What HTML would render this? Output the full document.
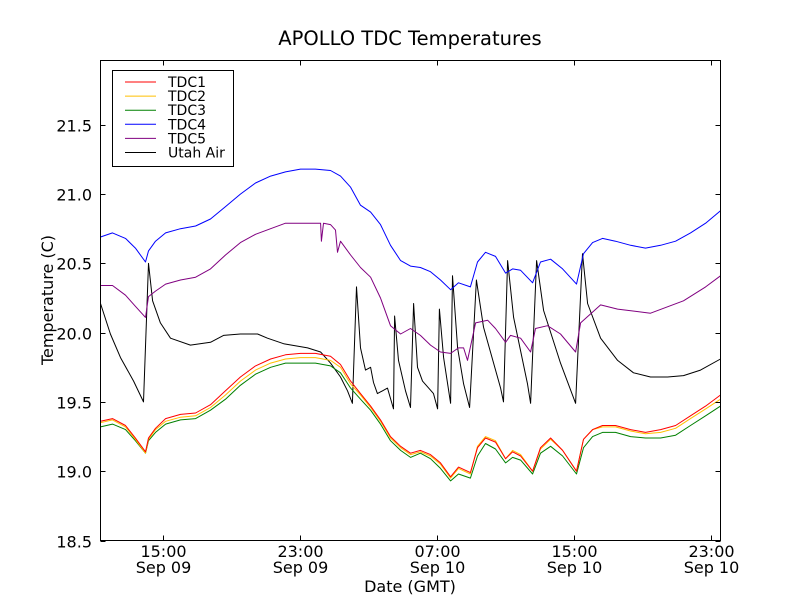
<!DOCTYPE html>
<html><head><meta charset="utf-8">
<style>
html,body{margin:0;padding:0;background:#fff;}
svg text{font-family:"DejaVu Sans","Liberation Sans",sans-serif;}
</style></head>
<body>
<svg id="chart" width="800" height="600" viewBox="0 0 800 600" xmlns="http://www.w3.org/2000/svg">
<rect x="0" y="0" width="800" height="600" fill="#fff"/>
<text x="410" y="45" font-size="19.5" text-anchor="middle">APOLLO TDC Temperatures</text>
<g id="plot"></g>
<rect x="100.5" y="60.5" width="620" height="480" fill="none" stroke="#000" stroke-width="1"/>
<g id="ticks"></g>
<text x="410" y="592" font-size="16" text-anchor="middle">Date (GMT)</text>
<text transform="translate(53,300) rotate(-90)" font-size="16" text-anchor="middle">Temperature (C)</text>
<g id="legend">
<rect x="112.5" y="70.5" width="121" height="96" fill="#fff" stroke="#000" stroke-width="1"/>
</g>
</svg>
<script>
const hoursGrid = [11.38,12.08,12.84,13.42,14.01,14.18,14.59,15.18,16.05,16.93,17.80,18.68,19.55,20.43,21.31,22.18,23.06,23.93,24.81,25.39,25.98,26.56,27.15,27.73,28.31,28.90,29.48,30.06,30.65,31.23,31.82,32.28,32.98,33.39,33.86,34.44,35.03,35.44,35.91,36.61,37.07,37.66,38.36,39.17,39.58,40.11,40.69,41.45,42.33,43.20,44.08,44.96,45.83,46.71,47.58];
const tdc1 = [19.36,19.38,19.33,19.24,19.14,19.24,19.31,19.38,19.41,19.42,19.48,19.58,19.68,19.76,19.81,19.84,19.85,19.85,19.83,19.77,19.65,19.56,19.47,19.37,19.25,19.18,19.13,19.15,19.12,19.06,18.96,19.03,18.99,19.17,19.24,19.21,19.09,19.14,19.11,19.00,19.17,19.24,19.15,19.00,19.23,19.30,19.33,19.33,19.30,19.28,19.30,19.33,19.40,19.47,19.55];
const tdc2 = [19.35,19.37,19.32,19.23,19.13,19.23,19.30,19.36,19.39,19.40,19.46,19.55,19.65,19.73,19.78,19.81,19.82,19.82,19.80,19.75,19.63,19.55,19.46,19.36,19.24,19.17,19.12,19.14,19.11,19.05,18.95,19.02,18.98,19.18,19.25,19.22,19.09,19.15,19.12,19.00,19.16,19.23,19.15,19.00,19.23,19.30,19.32,19.32,19.29,19.27,19.28,19.31,19.38,19.45,19.52];
const tdc3 = [19.32,19.34,19.30,19.22,19.13,19.22,19.28,19.34,19.37,19.38,19.44,19.52,19.62,19.70,19.75,19.78,19.78,19.78,19.76,19.71,19.60,19.52,19.44,19.34,19.22,19.15,19.10,19.13,19.09,19.02,18.93,18.98,18.95,19.11,19.20,19.16,19.06,19.10,19.08,18.98,19.13,19.18,19.11,18.98,19.17,19.25,19.28,19.28,19.25,19.24,19.24,19.26,19.33,19.40,19.47];
const tdc4 = [20.69,20.72,20.68,20.61,20.51,20.59,20.66,20.72,20.75,20.77,20.82,20.91,21.00,21.08,21.13,21.16,21.18,21.18,21.17,21.13,21.05,20.92,20.87,20.78,20.63,20.52,20.48,20.47,20.44,20.38,20.31,20.36,20.33,20.51,20.58,20.55,20.43,20.46,20.45,20.36,20.51,20.53,20.46,20.35,20.57,20.65,20.68,20.66,20.63,20.61,20.63,20.66,20.72,20.79,20.88];
const tdc5Hours = [11.38,12.08,12.84,13.42,14.01,14.18,14.59,15.18,16.05,16.93,17.80,18.68,19.55,20.43,21.31,22.18,23.06,23.93,24.23,24.28,24.40,24.81,25.10,25.22,25.39,25.98,26.56,27.15,27.73,28.31,28.90,29.48,30.06,30.65,31.23,31.82,32.28,32.58,32.81,33.28,33.98,34.44,35.03,35.32,35.91,36.49,36.78,37.48,38.24,39.12,39.41,40.58,41.57,43.49,45.42,46.71,47.58];
const tdc5 = [20.34,20.34,20.27,20.19,20.11,20.26,20.30,20.35,20.38,20.40,20.46,20.56,20.65,20.71,20.75,20.79,20.79,20.79,20.79,20.66,20.79,20.78,20.74,20.58,20.66,20.56,20.47,20.40,20.25,20.05,19.99,20.03,19.98,19.91,19.86,19.85,19.89,19.89,19.80,20.07,20.09,20.03,19.93,19.98,19.96,19.86,20.03,20.05,19.99,19.86,20.07,20.20,20.17,20.14,20.23,20.33,20.41];
const airHours = [11.38,11.96,12.55,13.31,13.89,14.18,14.42,14.88,15.47,16.63,17.80,18.56,19.55,20.55,21.13,22.07,23.47,24.23,24.81,25.39,25.80,26.09,26.33,26.56,26.85,27.15,27.32,27.55,28.14,28.49,28.55,28.78,29.19,29.48,29.66,29.89,30.18,30.82,31.06,31.17,31.41,31.82,31.93,32.23,32.58,32.93,33.33,33.74,34.74,34.91,35.15,35.50,36.31,36.49,36.84,37.25,38.24,39.12,39.52,39.82,40.58,41.57,42.50,43.49,44.49,45.42,46.41,47.58];
const air = [20.21,19.99,19.82,19.65,19.50,20.50,20.23,20.07,19.96,19.91,19.93,19.98,19.99,19.99,19.96,19.92,19.89,19.86,19.78,19.68,19.58,19.49,20.33,19.89,19.73,19.75,19.64,19.56,19.60,19.45,20.12,19.80,19.58,19.46,20.21,19.75,19.65,19.56,19.45,20.17,19.82,19.49,20.41,19.89,19.63,19.46,20.38,20.04,19.60,19.50,20.52,20.11,19.63,19.49,20.52,20.16,19.78,19.49,20.57,20.21,19.96,19.80,19.71,19.68,19.68,19.69,19.73,19.81];
const yTicks = [18.5,19.0,19.5,20.0,20.5,21.0,21.5];
const xTickHours = [15,23,31,39,47];
const xTickTimes = ["15:00","23:00","07:00","15:00","23:00"];
const xTickDates = ["Sep 09","Sep 09","Sep 10","Sep 10","Sep 10"];
const seriesNames = ["TDC1","TDC2","TDC3","TDC4","TDC5","Utah Air"];
const seriesColors = ["#ff0000","#ffbf00","#008000","#0000ff","#800080","#000000"];

const NS = "http://www.w3.org/2000/svg";
const X0=100.5, X1=720.5, Y0=540.5, Y1=60.5;
const hMin=11.38, hMax=47.58, tMin=18.5, tMax=21.964;
function xs(h){return X0+(h-hMin)/(hMax-hMin)*(X1-X0);}
function ys(t){return Y0-(t-tMin)/(tMax-tMin)*(Y0-Y1);}
function mk(tag, attrs){const e=document.createElementNS(NS,tag);for(const k in attrs)e.setAttribute(k,attrs[k]);return e;}

const plot=document.getElementById('plot');
const allSeries=[[hoursGrid,tdc1],[hoursGrid,tdc2],[hoursGrid,tdc3],[hoursGrid,tdc4],[tdc5Hours,tdc5],[airHours,air]];
const order=[5,4,3,2,1,0];
order.forEach(i=>{
  const [hs,vs]=allSeries[i];
  const d=hs.map((h,j)=>(j?'L':'M')+xs(h).toFixed(1)+','+ys(vs[j]).toFixed(1)).join('');
  const p=mk('path',{d:d,fill:'none',stroke:seriesColors[i],'stroke-width':1,'stroke-linejoin':'round'});
  
  
  plot.appendChild(p);
});

const ticks=document.getElementById('ticks');
yTicks.forEach(t=>{
  const y=Math.round(ys(t))+0.5;
  const l1=mk('line',{x1:X0,x2:X0+5,y1:y,y2:y,stroke:'#000'});
  
  
  ticks.appendChild(l1);
  const l2=mk('line',{x1:X1-5,x2:X1,y1:y,y2:y,stroke:'#000'});
  
  
  ticks.appendChild(l2);
  const tx=mk('text',{x:92,y:y+6,'font-size':16,'text-anchor':'end'});
  tx.textContent=t.toFixed(1);
  
  
  ticks.appendChild(tx);
});
xTickHours.forEach((h,i)=>{
  const x=Math.round(xs(h))+0.5;
  const l1=mk('line',{x1:x,x2:x,y1:Y0,y2:Y0-5,stroke:'#000'});
  
  
  ticks.appendChild(l1);
  const l2=mk('line',{x1:x,x2:x,y1:Y1,y2:Y1+5,stroke:'#000'});
  
  
  ticks.appendChild(l2);
  const t1=mk('text',{x:x,y:557,'font-size':16,'text-anchor':'middle'});
  t1.textContent=xTickTimes[i];
  
  
  ticks.appendChild(t1);
  const t2=mk('text',{x:x,y:573,'font-size':16,'text-anchor':'middle'});
  t2.textContent=xTickDates[i];
  
  
  ticks.appendChild(t2);
});

const legend=document.getElementById('legend');
seriesNames.forEach((n,i)=>{
  const y=82+i*14.1;
  const g=mk('g',{});
  
  
  g.appendChild(mk('line',{x1:125,x2:156,y1:y,y2:y,stroke:seriesColors[i],'stroke-width':1}));
  const t=mk('text',{x:168,y:y+5,'font-size':14});
  t.textContent=n;
  g.appendChild(t);
  legend.appendChild(g);
});
</script>
</body></html>
